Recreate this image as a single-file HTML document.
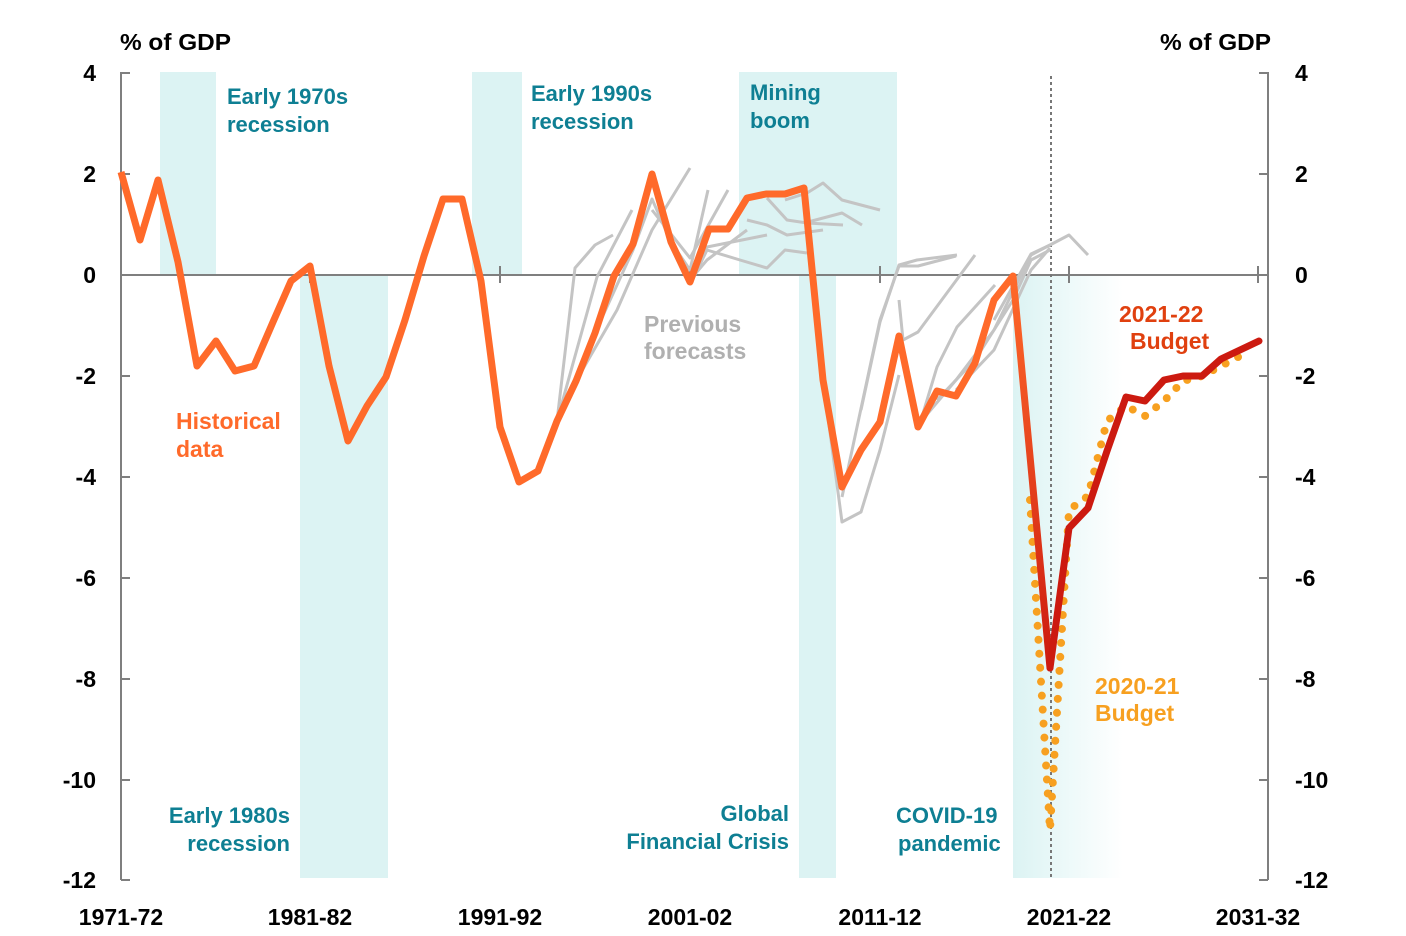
<!DOCTYPE html>
<html><head><meta charset="utf-8"><style>
html,body{margin:0;padding:0;background:#fff;}
svg{display:block;font-family:"Liberation Sans","DejaVu Sans",sans-serif;}
.t{fill:#0e7f93;font-weight:bold;font-size:22px;}
.ax{font-weight:bold;font-size:23px;fill:#000;}
</style></head><body>
<svg width="1406" height="936" viewBox="0 0 1406 936" xmlns="http://www.w3.org/2000/svg">
<defs>
<linearGradient id="cv" x1="0" x2="1" y1="0" y2="0">
<stop offset="0" stop-color="#dcf3f3"/><stop offset="0.3" stop-color="#e6f7f7"/><stop offset="1" stop-color="#ffffff"/>
</linearGradient>
<linearGradient id="ln" x1="1013" y1="276" x2="1050" y2="668" gradientUnits="userSpaceOnUse">
<stop offset="0" stop-color="#ff6a2a"/><stop offset="1" stop-color="#cc1a10"/>
</linearGradient>
</defs>
<g fill="#dcf3f3">
<rect x="160" y="72" width="56" height="203"/>
<rect x="300" y="275" width="88" height="603"/>
<rect x="472" y="72" width="50" height="203"/>
<rect x="739" y="72" width="158" height="203"/>
<rect x="799" y="275" width="37" height="603"/>
</g>
<rect x="1013" y="275" width="110" height="603" fill="url(#cv)"/>
<g stroke="#7f7f7f" stroke-width="2" fill="none">
<line x1="121" y1="72" x2="121" y2="880"/>
<line x1="1268" y1="72" x2="1268" y2="880"/>
<line x1="121" y1="275" x2="1268" y2="275"/>
<path d="M121 73h9M121 174h9M121 275h9M121 376h9M121 477h9M121 578h9M121 679h9M121 780h9M121 880h9"/>
<path d="M1268 73h-9M1268 174h-9M1268 376h-9M1268 477h-9M1268 578h-9M1268 679h-9M1268 780h-9M1268 880h-9"/>
<path d="M310 266v17M500 266v17M690 266v17M880 266v17M1069 266v17M1258 266v17"/>
</g>
<line x1="1051" y1="76" x2="1051" y2="880" stroke="#777" stroke-width="2" stroke-dasharray="3 3"/>
<g stroke="#c4c4c4" stroke-width="3" fill="none" stroke-linejoin="round">
<polyline points="557,421 575,268 595,245 613,235"/>
<polyline points="557,421 597,277 632,210"/>
<polyline points="576,381 617,310 652,230 690,168"/>
<polyline points="595,333 633,250 652,199 671,242 690,270 708,190"/>
<polyline points="652,210 690,258 728,190"/>
<polyline points="690,285 707,250 740,260 767,268 785,250 807,253"/>
<polyline points="690,280 707,260 747,230"/>
<polyline points="690,270 707,247 767,235"/>
<polyline points="747,220 767,225 787,235 823,230"/>
<polyline points="767,198 787,220 807,223 843,225"/>
<polyline points="785,200 807,193 823,183 842,200 880,210"/>
<polyline points="808,222 842,213 862,225"/>
<polyline points="823,380 842,522 861,512 880,450 899,375"/>
<polyline points="842,497 880,320 899,266 918,266 956,256"/>
<polyline points="861,410 880,322 899,265 917,260 957,255"/>
<polyline points="899,300 903,340 918,332 938,305 975,255"/>
<polyline points="918,430 937,367 957,327 995,285"/>
<polyline points="918,425 956,380 994,330 1031,255 1050,245"/>
<polyline points="937,400 975,360 1013,300 1031,260 1050,250"/>
<polyline points="956,390 994,350 1031,270 1050,248"/>
<polyline points="994,320 1031,254 1050,245 1069,235 1088,255"/>
</g>
<polyline points="1030,500 1050,830 1069,510 1088,496 1107,421 1126,406 1145,416 1164,401 1183,381 1202,376 1221,366 1240,356" fill="none" stroke="#f7a020" stroke-width="8" stroke-linecap="round" stroke-dasharray="0 14"/>
<polyline points="121,172 140,240 158,180 178,262 197,366 216,341 235,371 254,366 273,322 291,281 310,266 329,366 348,441 367,406 386,377 405,320 424,256 443,199 462,199 481,281 500,427 519,482 538,471 557,421 576,381 595,333 614,276 633,244 652,174 671,242 690,282 709,229 728,229 747,198 766,194 785,194 804,188 823,380 842,487 861,450 880,422 899,336 918,427 937,391 956,396 975,363 994,300 1013,276" fill="none" stroke="#ff6a2a" stroke-width="7" stroke-linejoin="round"/>
<polyline points="1013,276 1050,668" fill="none" stroke="url(#ln)" stroke-width="7" stroke-linecap="round"/>
<polyline points="1050,668 1069,528 1088,508 1107,451 1126,397 1145,401 1164,380 1183,376 1202,376 1221,359 1240,350 1259,341" fill="none" stroke="#cc1a10" stroke-width="7" stroke-linejoin="round" stroke-linecap="round"/>
<g class="ax">
<text x="120" y="50" textLength="111" lengthAdjust="spacingAndGlyphs">% of GDP</text>
<text x="1160" y="50" textLength="111" lengthAdjust="spacingAndGlyphs">% of GDP</text>
<g text-anchor="end">
<text x="96" y="81">4</text><text x="96" y="182">2</text><text x="96" y="283">0</text><text x="96" y="384">-2</text><text x="96" y="485">-4</text><text x="96" y="586">-6</text><text x="96" y="687">-8</text><text x="96" y="788">-10</text><text x="96" y="888">-12</text>
</g>
<g text-anchor="start">
<text x="1295" y="81">4</text><text x="1295" y="182">2</text><text x="1295" y="283">0</text><text x="1295" y="384">-2</text><text x="1295" y="485">-4</text><text x="1295" y="586">-6</text><text x="1295" y="687">-8</text><text x="1295" y="788">-10</text><text x="1295" y="888">-12</text>
</g>
<g text-anchor="middle">
<text x="121" y="925">1971-72</text><text x="310" y="925">1981-82</text><text x="500" y="925">1991-92</text><text x="690" y="925">2001-02</text><text x="880" y="925">2011-12</text><text x="1069" y="925">2021-22</text><text x="1258" y="925">2031-32</text>
</g>
</g>
<text class="t" x="227" y="104">Early 1970s</text><text class="t" x="227" y="132">recession</text>
<text class="t" x="531" y="101">Early 1990s</text><text class="t" x="531" y="129">recession</text>
<text class="t" x="750" y="100">Mining</text><text class="t" x="750" y="128">boom</text>
<g text-anchor="end"><text class="t" x="290" y="823">Early 1980s</text><text class="t" x="290" y="851">recession</text>
<text class="t" x="789" y="821">Global</text><text class="t" x="789" y="849">Financial Crisis</text></g>
<text class="t" x="896" y="823">COVID-19</text><text class="t" x="898" y="851">pandemic</text>
<g font-weight="bold" font-size="23">
<text x="644" y="332" fill="#b0b0b0">Previous</text><text x="644" y="359" fill="#b0b0b0">forecasts</text>
<text x="176" y="429" fill="#ff6a2a">Historical</text><text x="176" y="457" fill="#ff6a2a">data</text>
<text x="1119" y="322" fill="#e0400f">2021-22</text><text x="1130" y="349" fill="#e0400f">Budget</text>
<text x="1095" y="694" fill="#f7a020">2020-21</text><text x="1095" y="721" fill="#f7a020">Budget</text>
</g>
</svg>
</body></html>
